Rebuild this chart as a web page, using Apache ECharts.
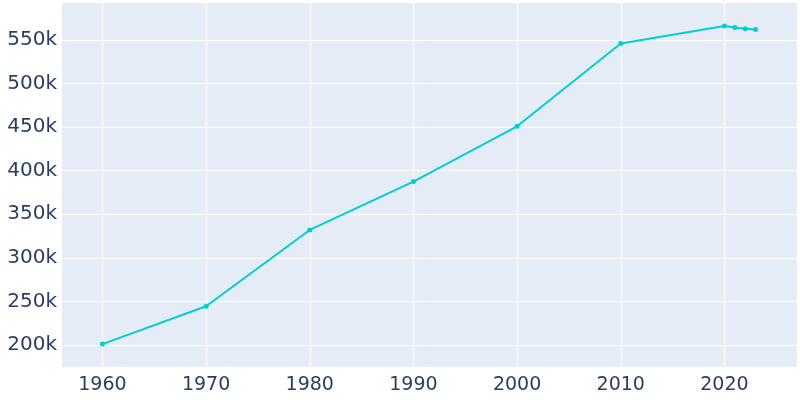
<!DOCTYPE html>
<html>
<head>
<meta charset="utf-8">
<script src="https://cdn.jsdelivr.net/npm/echarts@6/dist/echarts.min.js"></script>
<style>html,body{margin:0;padding:0;background:#fff}#chart{width:800px;height:400px}</style>
</head>
<body>
<div id="chart"></div>
<script>
const years = [1960, 1970, 1980, 1990, 2000, 2010, 2020, 2021, 2022, 2023];
const population = [201000, 244500, 332000, 387500, 451000, 546000, 566000, 564500, 563000, 562000];
const xTicks = [1960, 1970, 1980, 1990, 2000, 2010, 2020];
const yTicks = [200000, 250000, 300000, 350000, 400000, 450000, 500000, 550000];

const chart = echarts.init(document.getElementById('chart'));
const gridLines = xTicks.map(v => ({ xAxis: v })).concat(yTicks.map(v => ({ yAxis: v })));
chart.setOption({
    animation: false,
    grid: { left: 62, right: 3, top: 3, bottom: 33, show: true, backgroundColor: '#E5ECF6', borderWidth: 0 },
    xAxis: {
        type: 'value', min: 1956.1, max: 2027,
        axisLine: { show: false }, axisTick: { show: false }, splitLine: { show: false },
        axisLabel: { customValues: xTicks, color: '#2a3f5f', fontSize: 19, fontFamily: 'DejaVu Sans', margin: 9,
            formatter: v => String(v) }
    },
    yAxis: {
        type: 'value', min: 174700, max: 592500,
        axisLine: { show: false }, axisTick: { show: false }, splitLine: { show: false },
        axisLabel: {
            customValues: yTicks, color: '#2a3f5f', fontSize: 20, fontFamily: 'DejaVu Sans', margin: 5,
            formatter: v => (v / 1000) + 'k'
        }
    },
    series: [{
        type: 'line', data: years.map((y, i) => [y, population[i]]),
        lineStyle: { color: '#00CED1', width: 2 },
        itemStyle: { color: '#00CED1' },
        symbol: 'circle', symbolSize: 5,
        markLine: {
            silent: true, symbol: 'none', label: { show: false },
            lineStyle: { color: '#fff', type: 'solid', width: 1 },
            data: gridLines, z: 0
        }
    }]
});
</script>
</body>
</html>
